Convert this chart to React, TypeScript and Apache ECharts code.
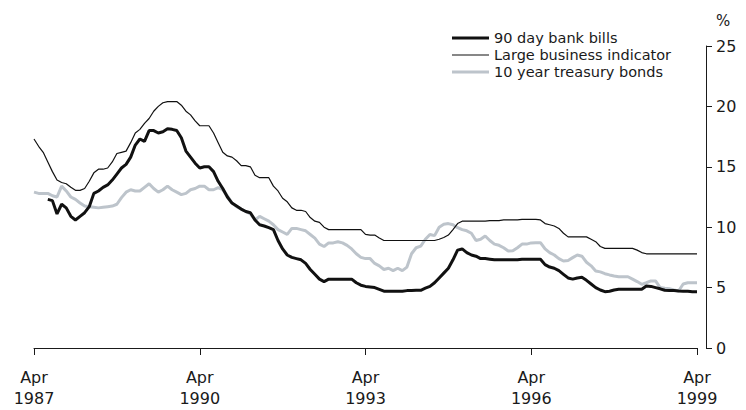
import React, { useEffect, useRef } from "react";
import * as echarts from "echarts";

// Monthly observations, Apr 1987 .. Apr 1999 (145 months)
const bankBills: (number | null)[] = [
  null, null, null, 12.3, 12.2, 11.1, 11.9, 11.6, 10.9, 10.6, 10.9, 11.2,
  11.7, 12.8, 13.0, 13.3, 13.5, 13.9, 14.4, 14.9, 15.2, 15.8, 16.8, 17.3,
  17.1, 18.0, 18.0, 17.8, 17.9, 18.15, 18.1, 18.0, 17.4, 16.3, 15.8, 15.3,
  14.9, 15.0, 15.0, 14.6, 13.8, 13.2, 12.5, 12.0, 11.75, 11.5, 11.3, 11.2,
  10.6, 10.2, 10.1, 9.96, 9.8, 8.9, 8.2, 7.7, 7.5, 7.4, 7.3, 7.0,
  6.5, 6.1, 5.7, 5.5, 5.7, 5.7, 5.7, 5.7, 5.7, 5.7, 5.4, 5.2,
  5.1, 5.05, 5.0, 4.85, 4.7, 4.7, 4.7, 4.7, 4.7, 4.75, 4.75, 4.78,
  4.78, 4.95, 5.1, 5.4, 5.8, 6.2, 6.6, 7.3, 8.1, 8.2, 7.9, 7.7,
  7.6, 7.4, 7.4, 7.35, 7.3, 7.3, 7.3, 7.3, 7.3, 7.3, 7.35, 7.35,
  7.35, 7.35, 7.35, 6.9, 6.7, 6.6, 6.4, 6.1, 5.8, 5.7, 5.8, 5.85,
  5.6, 5.3, 5.0, 4.8, 4.66, 4.7, 4.8, 4.86, 4.86, 4.86, 4.86, 4.86,
  4.86, 5.13, 5.1, 5.0, 4.9, 4.78, 4.75, 4.75, 4.72, 4.7, 4.7, 4.66,
  4.66,
];

const largeBusiness: number[] = [
  17.3, 16.7, 16.2, 15.4, 14.6, 13.9, 13.7, 13.6, 13.3, 13.05, 13.05, 13.2,
  13.8, 14.5, 14.8, 14.8, 14.9, 15.4, 16.1, 16.2, 16.3, 17.0, 17.8, 18.1,
  18.6, 19.0, 19.6, 20.0, 20.3, 20.4, 20.4, 20.4, 20.1, 19.6, 19.3, 18.8,
  18.4, 18.4, 18.4, 17.8, 17.0, 16.2, 15.9, 15.8, 15.5, 15.1, 15.1, 15.0,
  14.3, 14.1, 14.1, 14.1, 13.4, 13.0, 12.4, 12.1, 11.6, 11.4, 11.4, 11.3,
  10.8, 10.5, 10.4, 10.0, 9.8, 9.8, 9.8, 9.8, 9.8, 9.8, 9.8, 9.8,
  9.4, 9.35, 9.35, 9.1, 8.9, 8.9, 8.9, 8.9, 8.9, 8.9, 8.9, 8.9,
  8.9, 8.9, 8.9, 8.9, 9.0, 9.15, 9.35, 9.8, 10.3, 10.5, 10.5, 10.5,
  10.5, 10.5, 10.5, 10.55, 10.55, 10.55, 10.6, 10.6, 10.6, 10.6, 10.65, 10.65,
  10.65, 10.65, 10.6, 10.3, 10.2, 10.1, 9.9, 9.5, 9.2, 9.2, 9.2, 9.2,
  9.2, 9.0, 8.8, 8.4, 8.25, 8.25, 8.25, 8.25, 8.25, 8.25, 8.25, 8.1,
  7.9, 7.8, 7.8, 7.8, 7.8, 7.8, 7.8, 7.8, 7.8, 7.8, 7.8, 7.8,
  7.8,
];

const treasuryBonds: number[] = [
  12.9, 12.8, 12.8, 12.8, 12.6, 12.5, 13.4, 13.0, 12.5, 12.3, 12.0, 11.75,
  11.7, 11.65, 11.6, 11.65, 11.7, 11.75, 11.9, 12.45, 12.9, 13.1, 13.0, 13.0,
  13.3, 13.6, 13.2, 12.9, 13.1, 13.4, 13.1, 12.9, 12.7, 12.8, 13.1, 13.2,
  13.4, 13.4, 13.1, 13.1, 13.27, 13.1, 12.6, 12.0, 11.7, 11.5, 11.3, 11.1,
  10.6, 10.9, 10.7, 10.5, 10.2, 9.8, 9.6, 9.4, 9.9, 9.9, 9.8, 9.7,
  9.4, 9.1, 8.6, 8.4, 8.7, 8.7, 8.8, 8.7, 8.5, 8.2, 7.8, 7.5,
  7.4, 7.4, 7.0, 6.8, 6.5, 6.6, 6.4, 6.6, 6.4, 6.7, 7.8, 8.3,
  8.44, 9.0, 9.4, 9.3, 10.0, 10.24, 10.3, 10.2, 9.96, 9.8, 9.7, 9.5,
  8.9, 9.0, 9.27, 8.9, 8.6, 8.5, 8.3, 8.03, 8.05, 8.3, 8.6, 8.6,
  8.7, 8.72, 8.72, 8.2, 7.9, 7.7, 7.4, 7.2, 7.25, 7.48, 7.7, 7.6,
  7.1, 6.8, 6.37, 6.3, 6.15, 6.05, 5.96, 5.9, 5.9, 5.9, 5.7, 5.5,
  5.27, 5.4, 5.55, 5.55, 5.0, 4.94, 4.9, 4.8, 4.72, 5.3, 5.4, 5.4,
  5.4,
];

const seriesNames = ["90 day bank bills", "Large business indicator", "10 year treasury bonds"];
const seriesColors = ["#111111", "#111111", "#bdc4cb"];
const seriesWidths = [3, 1.2, 3];
const monthNames = ["Jan", "Feb", "Mar", "Apr", "May", "Jun", "Jul", "Aug", "Sep", "Oct", "Nov", "Dec"];
const startYear = 1987;
const startMonth = 3; // April
const monthCount = 145;
const months: string[] = [];
for (let i = 0; i < monthCount; i++) {
  const mm = startMonth + i;
  months.push(`${monthNames[mm % 12]} ${startYear + Math.floor(mm / 12)}`);
}
const tickEvery = 36;
const yTicks = { min: 0, max: 25, interval: 5 };

const FONT = "DejaVu Sans";
const TEXT = "#1a1a1a";

export default function App() {
  const ref = useRef<HTMLDivElement>(null);
  useEffect(() => {
    if (!ref.current) return;
    const chart = echarts.init(ref.current, undefined, { renderer: "svg" });
    const legendX = 452;
    const legendY = 38;
    const legendStep = 17;
    const legendGraphics: any[] = [];
    seriesNames.forEach((name, i) => {
      const y = legendY + i * legendStep;
      legendGraphics.push({
        type: "line",
        shape: { x1: legendX, y1: y, x2: legendX + 37, y2: y },
        style: { stroke: seriesColors[i], lineWidth: seriesWidths[i] },
      });
      legendGraphics.push({
        type: "text",
        x: legendX + 42,
        y,
        style: {
          text: name,
          font: `14.5px ${FONT}`,
          fill: TEXT,
          textVerticalAlign: "middle",
          verticalAlign: "middle",
        },
      });
    });
    chart.setOption({
      animation: false,
      backgroundColor: "#ffffff",
      textStyle: { fontFamily: FONT, color: TEXT },
      grid: { left: 34, right: 49, top: 46, bottom: 62, containLabel: false },
      graphic: [
        ...legendGraphics,
        {
          type: "text",
          x: 716,
          y: 13,
          style: { text: "%", font: `15px ${FONT}`, fill: TEXT },
        },
      ],
      xAxis: {
        type: "category",
        data: months,
        boundaryGap: false,
        offset: 12,
        axisLine: { lineStyle: { color: TEXT, width: 1 } },
        axisTick: {
          alignWithLabel: true,
          length: 7,
          interval: (i: number) => i % tickEvery === 0,
          lineStyle: { color: TEXT },
        },
        axisLabel: {
          interval: (i: number) => i % tickEvery === 0,
          formatter: (v: string) => v.replace(" ", "\n"),
          fontFamily: FONT,
          fontSize: 16,
          lineHeight: 21,
          color: TEXT,
          margin: 7,
        },
        splitLine: { show: false },
      },
      yAxis: {
        type: "value",
        position: "right",
        offset: 9,
        min: yTicks.min,
        max: yTicks.max,
        interval: yTicks.interval,
        axisLine: { show: true, lineStyle: { color: TEXT, width: 1 } },
        axisTick: { show: true, length: 6, lineStyle: { color: TEXT } },
        axisLabel: { fontFamily: FONT, fontSize: 16, color: TEXT, margin: 10 },
        splitLine: { show: false },
      },
      series: seriesNames.map((name, i) => ({
        name,
        type: "line",
        data: [bankBills, largeBusiness, treasuryBonds][i],
        symbol: "none",
        z: 4 - i,
        lineStyle: { color: seriesColors[i], width: seriesWidths[i] },
        itemStyle: { color: seriesColors[i] },
      })),
    });
    return () => chart.dispose();
  }, []);
  return <div ref={ref} style={{ width: 746, height: 410, position: "absolute", left: 0, top: 0 }} />;
}
